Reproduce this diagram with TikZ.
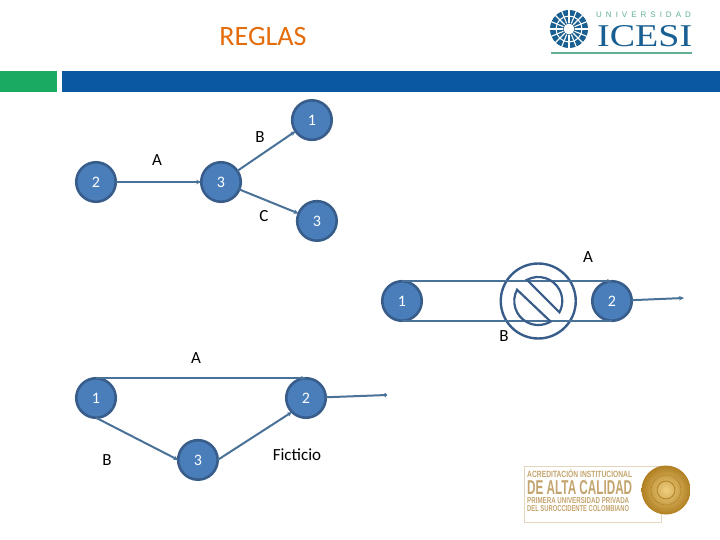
\documentclass[tikz,border=0pt]{standalone}
\usepackage{graphicx}
\usepackage{fontspec}
\setmainfont{Carlito}
\newfontfamily\logoserif{Liberation Serif}
\newfontfamily\logosans{Liberation Sans}
\usepackage{tikz}
\usetikzlibrary{arrows.meta,positioning,calc}
\definecolor{nodeblue}{HTML}{4A7EBB}
\definecolor{nodeedge}{HTML}{385D8A}
\definecolor{linkblue}{HTML}{4A7299}
\definecolor{barblue}{HTML}{0A58A0}
\definecolor{bargreen}{HTML}{1BAA62}
\definecolor{logoblue}{HTML}{1A5F92}
\definecolor{logogreen}{HTML}{62B08F}
\definecolor{gold}{HTML}{C4A46E}
\definecolor{golddark}{HTML}{B07F22}
\definecolor{goldlight}{HTML}{F0D080}
\definecolor{title}{HTML}{E46C0A}
\newcommand{\badgeline}[3]{\resizebox{#1}{#2}{#3}}

\begin{document}
\begin{tikzpicture}[x=1pt, y=-1pt,
		vertex/.style={circle, draw=nodeedge, line width=2.6pt, fill=nodeblue, text=white, minimum size=39.5pt, inner sep=0pt, outer sep=0pt, font=\fontsize{16}{16}\selectfont},
		link/.style={draw=linkblue, line width=2pt},
		arrow/.style={link, -{Stealth[length=5pt,width=4.5pt]}},
		dotarrow/.style={link, -{Circle[length=3.5pt]}},
		tag/.style={text=black, inner sep=0pt, font=\fontsize{17}{17}\selectfont},
		pulleyline/.style={draw=nodeedge, line width=2.2pt},
		goldtext/.style={text=gold, inner sep=0pt, anchor=west, font=\logosans\bfseries}]

		\useasboundingbox (0,0) rectangle (720,540);

		\node [fill=bargreen, minimum width=57pt, minimum height=21pt, inner sep=0pt, anchor=north west] (greenbar) at (0,71) {};
		\node [fill=barblue, minimum width=658pt, minimum height=21pt, inner sep=0pt, anchor=north west] (bluebar) at (62,71) {};
		\node [text=title, font=\fontsize{28}{28}\selectfont] (heading) at (263,37) {REGLAS};

		\node [vertex] (left2) at (96,182) {2};
		\node [vertex, right=85.5pt of left2] (left3) {3};
		\node [vertex, above right=34pt and 63pt of left3] (top1) {1};
		\node [vertex, below right=11pt and 68pt of left3] (low3) {3};
		\node [tag] (tagA) at (157,160) {A};
		\node [tag] (tagB) at (260,137) {B};
		\node [tag] (tagC) at (264,216) {C};

		\draw [arrow] (left2) -- (left3);
		\draw [arrow] (left3) -- (top1);
		\draw [arrow] (left3) -- (low3);

		\node [vertex] (belt1) at (402,301) {1};
		\node [vertex, right=170.5pt of belt1] (belt2) {2};
		\node [circle, draw=nodeedge, line width=2.4pt, minimum size=75pt, inner sep=0pt, outer sep=0pt, right=79pt of belt1] (pulley) {};
		\coordinate (beltout) at (684,298);
		\node [tag] (beltA) at (588,257) {A};
		\node [tag] (beltB) at (504,336) {B};

		\draw [arrow] (belt1.north) -- (belt2.north);
		\draw [link] (belt1.south) -- (belt2.south);
		\draw [arrow] (belt2) -- (beltout);
		\draw [pulleyline] ($(pulley)+(118:24pt)$) arc [start angle=118, end angle=-28, radius=24pt] -- cycle;
		\draw [pulleyline] ($(pulley)+(152:24pt)$) arc [start angle=152, end angle=301, radius=24pt] -- cycle;

		\node [vertex] (net1) at (96,398) {1};
		\node [vertex, right=170.5pt of net1] (net2) {2};
		\node [vertex, below right=34pt and 74pt of net1] (net3) {3};
		\coordinate (netout) at (387,395);
		\node [tag] (netA) at (196,358) {A};
		\node [tag] (netB) at (107,460) {B};
		\node [tag] (dummy) at (297,455) {Ficticio};

		\draw [arrow] (net1.north) -- (net2.north);
		\draw [arrow] (net1.south) -- (net3.west);
		\draw [arrow] (net3.east) -- (net2.south west);
		\draw [dotarrow] (net2) -- (netout);

		\node [circle, fill=logoblue, minimum size=38pt, inner sep=0pt] (wheel) at (569,29) {};
		\foreach \ang in {0,22.5,...,337.5}
			\draw [white, line width=1.1pt] ($(wheel)+(\ang:6pt)$) -- ($(wheel)+(\ang:19.5pt)$);
		\draw [white, line width=1pt] (wheel) circle [radius=13pt];
		\node [circle, fill=white, minimum size=11pt, inner sep=0pt] (hub) at (wheel) {};
		\node [text=logogreen, inner sep=0pt, anchor=west, font=\logosans\fontsize{8}{8}\selectfont] (univ) at (596,15) {U\,\,\,N\,\,\,I\,\,\,V\,\,\,E\,\,\,R\,\,\,S\,\,\,I\,\,\,D\,\,\,A\,\,\,D};
		\node [text=logoblue, inner sep=0pt, anchor=west, font=\logoserif] (icesi) at (597,36) {\badgeline{95pt}{21pt}{ICESI}};
		\node [fill=logogreen, minimum width=141pt, minimum height=1.8pt, inner sep=0pt, anchor=west] (rule) at (551,53) {};

		\node [draw=gold!45, line width=1pt, minimum width=137pt, minimum height=56pt, inner sep=0pt, anchor=north west] (badge) at (523.5,466) {};
		\node [goldtext] (line1) at (527,473.5) {\badgeline{105pt}{8pt}{ACREDITACIÓN INSTITUCIONAL}};
		\node [goldtext] (line2) at (527,487.5) {\badgeline{105pt}{14pt}{DE ALTA CALIDAD}};
		\node [goldtext] (line3) at (527,500.5) {\badgeline{102pt}{6pt}{PRIMERA UNIVERSIDAD PRIVADA}};
		\node [goldtext] (line4) at (527,508.5) {\badgeline{102pt}{6pt}{DEL SUROCCIDENTE COLOMBIANO}};
		\node [circle, inner color=goldlight, outer color=golddark, minimum size=49pt, inner sep=0pt] (coin) at (666,490) {};
		\draw [golddark, line width=1pt, densely dotted] (coin) circle [radius=15pt];
		\draw [golddark, line width=.8pt] (coin) circle [radius=9pt];

	\end{tikzpicture}
\end{document}
